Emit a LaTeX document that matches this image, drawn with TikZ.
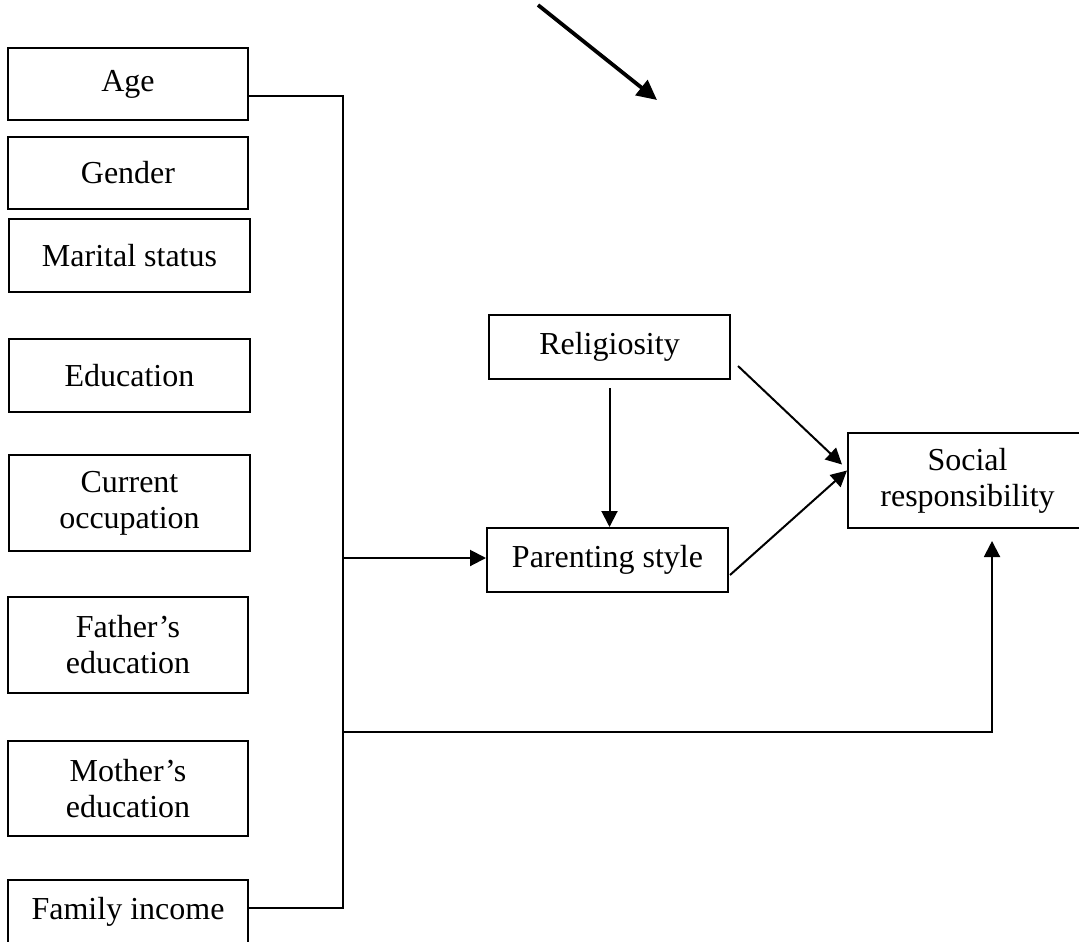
\documentclass[tikz,border=0pt]{standalone}
\usepackage{fontspec}
\setmainfont{Liberation Serif}
\usetikzlibrary{arrows.meta}
\tikzset{
  varbox/.style={draw, line width=1pt, inner sep=0pt, align=center, font=\fontsize{16}{18}\selectfont},
  link/.style={line width=1pt, -{Triangle[length=8pt,width=8pt]}},
  plain/.style={line width=1pt}
}
\begin{document}
\begin{tikzpicture}[x=0.5pt,y=-0.5pt]
\useasboundingbox (0,0) rectangle (1079,941);
\clip (0,0) rectangle (1079,941);
\node[varbox, minimum width=120pt, minimum height=36pt] (age) at (128,84) {Age};
\node[varbox, minimum width=120pt, minimum height=36pt] (gender) at (128,173) {Gender};
\node[varbox, minimum width=120.5pt, minimum height=36.5pt] (marital) at (129.5,255.5) {Marital status};
\node[varbox, minimum width=120.5pt, minimum height=36.5pt] (education) at (129.5,375.5) {Education};
\node[varbox, minimum width=120.5pt, minimum height=48pt] (occupation) at (129.5,503) {Current\\occupation};
\node[varbox, minimum width=120pt, minimum height=48pt] (father) at (128,645) {Father’s\\education};
\node[varbox, minimum width=120pt, minimum height=47.5pt] (mother) at (128,788.5) {Mother’s\\education};
\node[varbox, minimum width=120pt, text height=19.5pt, text depth=20pt, anchor=north] (income) at (128,879) {Family income};
\node[varbox, minimum width=120.5pt, minimum height=32pt] (relig) at (609.5,347) {Religiosity};
\node[varbox, minimum width=120.5pt, minimum height=32pt] (parenting) at (607.5,560) {Parenting style};
\node[varbox, minimum width=119.5pt, minimum height=47.5pt] (social) at (967.5,480.5) {Social\\responsibility};
\coordinate (busTop) at (343,96);
\coordinate (busBot) at (343,908);
\coordinate (busMid) at (343,558);
\coordinate (busLow) at (343,732);
\coordinate (srIn) at (992,541);
\coordinate (cueTail) at (538,5);
\coordinate (cueHead) at (657,100);
\draw[plain] (age.east |- busTop) -- (busTop) -- (busBot) -- (income.east |- busBot);
\draw[link] (busMid) -- (busMid -| parenting.west);
\draw[link] (busLow) -| (srIn);
\draw[link] ([yshift=-4pt]relig.south) -- (relig.south |- parenting.north);
\draw[link] ([shift={(7,19)}]relig.east) -- ([shift={(-5,-16)}]social.west);
\draw[link] ([shift={(1,15)}]parenting.east) -- ([shift={(0,-10)}]social.west);
\draw[line width=1.9pt, -{Triangle[length=10pt,width=9.5pt]}] (cueTail) -- (cueHead);
\end{tikzpicture}
\end{document}
